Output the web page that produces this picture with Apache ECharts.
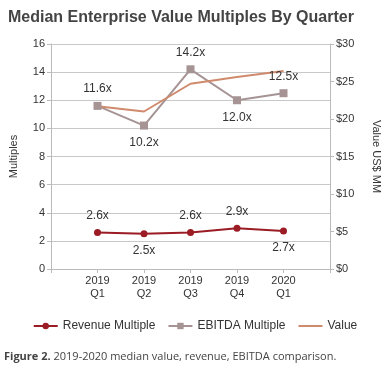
<!DOCTYPE html>
<html><head><meta charset="utf-8">
<script src="https://cdn.jsdelivr.net/npm/echarts@6/dist/echarts.min.js"></script>
<style>html,body{margin:0;padding:0;background:#fff}#c{width:390px;height:380px}</style>
</head><body><div id="c"></div>
<script>
const categories = ['2019\nQ1', '2019\nQ2', '2019\nQ3', '2019\nQ4', '2020\nQ1'];
const revenueMultiple = [2.6, 2.5, 2.6, 2.9, 2.7];
const ebitdaMultiple = [11.6, 10.2, 14.2, 12.0, 12.5];
const valueMM = [21.7, 21.0, 24.7, 25.6, 26.4];
const revenueLabelPos = ['top', 'bottom', 'top', 'top', 'bottom'];
const ebitdaLabelPos = ['top', 'bottom', 'top', 'bottom', 'top'];

const axisCats = [''].concat(categories, ['']);
const pad = a => [null].concat(a, [null]);
const withPos = (vals, pos) => pad(vals.map((v, i) => ({ value: v, label: { position: pos[i] } })));

const chart = echarts.init(document.getElementById('c'));
const fmt = p => (typeof p.value === 'number' ? p.value.toFixed(1) + 'x' : '');
chart.setOption({
  animation: false,
  textStyle: { fontFamily: 'Liberation Sans, Arial, sans-serif' },
  title: {
    text: 'Median Enterprise Value Multiples By Quarter',
    left: 3, top: 5,
    textStyle: { fontSize: 16, fontWeight: 'bold', color: '#444', fontFamily: 'Liberation Sans, Arial, sans-serif' }
  },
  grid: { left: 48, right: 56, top: 44, bottom: 111, containLabel: false },
  legend: {
    bottom: 43, left: 'center', itemWidth: 24, itemHeight: 8, itemGap: 12,
    textStyle: { fontSize: 12, color: '#333' },
    data: ['Revenue Multiple', 'EBITDA Multiple', { name: 'Value', itemStyle: { opacity: 0 } }]
  },
  xAxis: {
    type: 'category', data: axisCats, boundaryGap: false,
    axisLine: { lineStyle: { color: '#bbb' } },
    axisTick: { show: true, lineStyle: { color: '#bbb' }, length: 4 },
    axisLabel: { color: '#333', fontSize: 11, lineHeight: 13, margin: 5, interval: 0 }
  },
  yAxis: [{
    type: 'value', min: 0, max: 16, interval: 2,
    name: 'Multiples', nameLocation: 'middle', nameGap: 32, nameRotate: 90,
    nameTextStyle: { color: '#333', fontSize: 11 },
    axisLine: { show: true, lineStyle: { color: '#bbb' } },
    axisTick: { show: true, lineStyle: { color: '#bbb' }, length: 4 },
    axisLabel: { color: '#333', fontSize: 11, margin: 6 },
    splitLine: { lineStyle: { color: '#c8c8c8' } }
  }, {
    type: 'value', min: 0, max: 30, interval: 5, position: 'right',
    name: 'Value US$ MM', nameLocation: 'middle', nameGap: 41, nameRotate: -90,
    nameTextStyle: { color: '#333', fontSize: 11 },
    axisLine: { show: true, lineStyle: { color: '#bbb' } },
    axisTick: { show: true, lineStyle: { color: '#bbb' }, length: 4 },
    axisLabel: { color: '#333', fontSize: 11, margin: 6, formatter: v => '$' + v },
    splitLine: { show: false }
  }],
  series: [{
    name: 'Revenue Multiple', type: 'line', yAxisIndex: 0,
    data: withPos(revenueMultiple, revenueLabelPos),
    symbol: 'circle', symbolSize: 7, connectNulls: false,
    itemStyle: { color: '#9b1c24' }, lineStyle: { color: '#9b1c24', width: 2 },
    label: { show: true, formatter: fmt, color: '#333', fontSize: 12, distance: 7 }
  }, {
    name: 'EBITDA Multiple', type: 'line', yAxisIndex: 0,
    data: withPos(ebitdaMultiple, ebitdaLabelPos),
    symbol: 'rect', symbolSize: 8,
    itemStyle: { color: '#a69394' }, lineStyle: { color: '#a69394', width: 2 },
    label: { show: true, formatter: fmt, color: '#333', fontSize: 12, distance: 7 }
  }, {
    name: 'Value', type: 'line', yAxisIndex: 1,
    data: pad(valueMM),
    symbol: 'none', showSymbol: false,
    itemStyle: { color: '#d08a6c' }, lineStyle: { color: '#d08a6c', width: 2 }
  }],
  graphic: [{
    type: 'text', left: 4, top: 351,
    style: {
      text: '{b|Figure 2.} 2019-2020 median value, revenue, EBITDA comparison.',
      rich: {
        b: { fontWeight: 'bold', fontSize: 11, fill: '#444', fontFamily: 'Open Sans, Noto Sans, sans-serif' }
      },
      fontSize: 11, fill: '#444', fontFamily: 'Open Sans, Noto Sans, sans-serif'
    }
  }]
});
</script></body></html>
